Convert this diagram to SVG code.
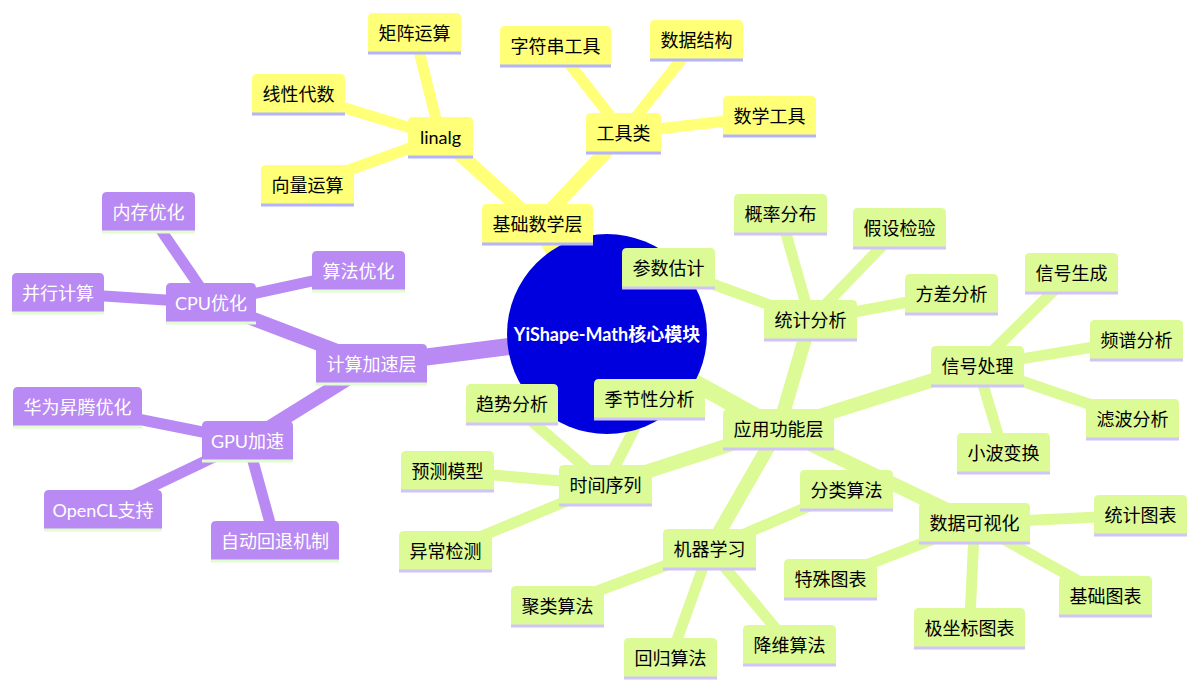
<svg xmlns="http://www.w3.org/2000/svg" width="1194" height="693" viewBox="0 0 1194 693">
<style>
text{font-family:"Trebuchet MS",Lato,"Noto Sans CJK SC",sans-serif;font-size:18px;text-anchor:middle;dominant-baseline:central}
.s0 path{fill:#ffff78}.s0 line{stroke:#b3b3ff;stroke-width:3}.s0 text{fill:#000}
.s1 path{fill:#dcfa96}.s1 line{stroke:#d0c4f8;stroke-width:3}.s1 text{fill:#000}
.s2 path{fill:#b98af3}.s2 line{stroke:#e2fcd2;stroke-width:3}.s2 text{fill:#fff}
#edges line{stroke-linecap:butt}
.e0{stroke:#ffff78}.e1{stroke:#dcfa96}.e2{stroke:#b98af3}
.d0{stroke-width:17}.d1{stroke-width:14}.d2{stroke-width:11}
</style>
<rect width="1194" height="693" fill="#fff"/>
<g id="edges">
<line class="e0 d0" x1="607" y1="334" x2="537.5" y2="224"/>
<line class="e1 d0" x1="607" y1="334" x2="778.5" y2="429"/>
<line class="e2 d0" x1="607" y1="334" x2="371.5" y2="364"/>
<line class="e0 d1" x1="537.5" y1="224" x2="440.5" y2="137"/>
<line class="e0 d1" x1="537.5" y1="224" x2="623.5" y2="133"/>
<line class="e0 d2" x1="440.5" y1="137" x2="414.5" y2="33"/>
<line class="e0 d2" x1="440.5" y1="137" x2="298.5" y2="94"/>
<line class="e0 d2" x1="440.5" y1="137" x2="307.5" y2="185"/>
<line class="e0 d2" x1="623.5" y1="133" x2="555.5" y2="46"/>
<line class="e0 d2" x1="623.5" y1="133" x2="696.5" y2="40"/>
<line class="e0 d2" x1="623.5" y1="133" x2="769.5" y2="116"/>
<line class="e1 d1" x1="778.5" y1="429" x2="810.5" y2="320"/>
<line class="e1 d1" x1="778.5" y1="429" x2="977.5" y2="366"/>
<line class="e1 d1" x1="778.5" y1="429" x2="605.5" y2="485"/>
<line class="e1 d1" x1="778.5" y1="429" x2="709.5" y2="549"/>
<line class="e1 d1" x1="778.5" y1="429" x2="974.5" y2="523"/>
<line class="e1 d2" x1="810.5" y1="320" x2="668.5" y2="268"/>
<line class="e1 d2" x1="810.5" y1="320" x2="780.5" y2="214"/>
<line class="e1 d2" x1="810.5" y1="320" x2="899.5" y2="228"/>
<line class="e1 d2" x1="810.5" y1="320" x2="951.5" y2="294"/>
<line class="e1 d2" x1="977.5" y1="366" x2="1071.5" y2="273"/>
<line class="e1 d2" x1="977.5" y1="366" x2="1136.5" y2="340"/>
<line class="e1 d2" x1="977.5" y1="366" x2="1132.5" y2="419"/>
<line class="e1 d2" x1="977.5" y1="366" x2="1003.5" y2="453"/>
<line class="e1 d2" x1="605.5" y1="485" x2="512" y2="404"/>
<line class="e1 d2" x1="605.5" y1="485" x2="649.5" y2="399"/>
<line class="e1 d2" x1="605.5" y1="485" x2="447.5" y2="471"/>
<line class="e1 d2" x1="605.5" y1="485" x2="445.5" y2="551"/>
<line class="e1 d2" x1="709.5" y1="549" x2="846.5" y2="490"/>
<line class="e1 d2" x1="709.5" y1="549" x2="557.5" y2="606"/>
<line class="e1 d2" x1="709.5" y1="549" x2="670.5" y2="658"/>
<line class="e1 d2" x1="709.5" y1="549" x2="789.5" y2="645"/>
<line class="e1 d2" x1="974.5" y1="523" x2="1140.5" y2="515"/>
<line class="e1 d2" x1="974.5" y1="523" x2="830.5" y2="579"/>
<line class="e1 d2" x1="974.5" y1="523" x2="969.5" y2="628"/>
<line class="e1 d2" x1="974.5" y1="523" x2="1105.5" y2="596"/>
<line class="e2 d1" x1="371.5" y1="364" x2="211" y2="303"/>
<line class="e2 d1" x1="371.5" y1="364" x2="247.5" y2="441"/>
<line class="e2 d2" x1="211" y1="303" x2="148.5" y2="212"/>
<line class="e2 d2" x1="211" y1="303" x2="358.5" y2="271"/>
<line class="e2 d2" x1="211" y1="303" x2="58" y2="293"/>
<line class="e2 d2" x1="247.5" y1="441" x2="77.5" y2="407"/>
<line class="e2 d2" x1="247.5" y1="441" x2="103" y2="510"/>
<line class="e2 d2" x1="247.5" y1="441" x2="275" y2="541"/>
</g>
<g id="root">
<circle cx="607" cy="334" r="100" fill="#0000df"/>
<text x="607" y="334" fill="#fff" font-weight="bold">YiShape-Math核心模块</text>
</g>
<!-- section 0 -->
<g id="n-jichu" class="s0" transform="translate(482,204)"><path d="M0 40V5Q0 0 5 0H106Q111 0 111 5V40Z"/><line x1="0" y1="40" x2="111" y2="40"/><text x="55.5" y="20">基础数学层</text></g>
<g id="n-linalg" class="s0" transform="translate(408,117)"><path d="M0 40V5Q0 0 5 0H60Q65 0 65 5V40Z"/><line x1="0" y1="40" x2="65" y2="40"/><text x="32.5" y="20">linalg</text></g>
<g id="n-juzhen" class="s0" transform="translate(368,13)"><path d="M0 40V5Q0 0 5 0H88Q93 0 93 5V40Z"/><line x1="0" y1="40" x2="93" y2="40"/><text x="46.5" y="20">矩阵运算</text></g>
<g id="n-xianxing" class="s0" transform="translate(252,74)"><path d="M0 40V5Q0 0 5 0H88Q93 0 93 5V40Z"/><line x1="0" y1="40" x2="93" y2="40"/><text x="46.5" y="20">线性代数</text></g>
<g id="n-xiangliang" class="s0" transform="translate(261,165)"><path d="M0 40V5Q0 0 5 0H88Q93 0 93 5V40Z"/><line x1="0" y1="40" x2="93" y2="40"/><text x="46.5" y="20">向量运算</text></g>
<g id="n-gongju" class="s0" transform="translate(586,113)"><path d="M0 40V5Q0 0 5 0H70Q75 0 75 5V40Z"/><line x1="0" y1="40" x2="75" y2="40"/><text x="37.5" y="20">工具类</text></g>
<g id="n-zifuchuan" class="s0" transform="translate(500,26)"><path d="M0 40V5Q0 0 5 0H106Q111 0 111 5V40Z"/><line x1="0" y1="40" x2="111" y2="40"/><text x="55.5" y="20">字符串工具</text></g>
<g id="n-shujujiegou" class="s0" transform="translate(650,20)"><path d="M0 40V5Q0 0 5 0H88Q93 0 93 5V40Z"/><line x1="0" y1="40" x2="93" y2="40"/><text x="46.5" y="20">数据结构</text></g>
<g id="n-shuxue" class="s0" transform="translate(723,96)"><path d="M0 40V5Q0 0 5 0H88Q93 0 93 5V40Z"/><line x1="0" y1="40" x2="93" y2="40"/><text x="46.5" y="20">数学工具</text></g>
<!-- section 1 -->
<g id="n-yingyong" class="s1" transform="translate(723,409)"><path d="M0 40V5Q0 0 5 0H106Q111 0 111 5V40Z"/><line x1="0" y1="40" x2="111" y2="40"/><text x="55.5" y="20">应用功能层</text></g>
<g id="n-tongji" class="s1" transform="translate(764,300)"><path d="M0 40V5Q0 0 5 0H88Q93 0 93 5V40Z"/><line x1="0" y1="40" x2="93" y2="40"/><text x="46.5" y="20">统计分析</text></g>
<g id="n-canshu" class="s1" transform="translate(622,248)"><path d="M0 40V5Q0 0 5 0H88Q93 0 93 5V40Z"/><line x1="0" y1="40" x2="93" y2="40"/><text x="46.5" y="20">参数估计</text></g>
<g id="n-gailv" class="s1" transform="translate(734,194)"><path d="M0 40V5Q0 0 5 0H88Q93 0 93 5V40Z"/><line x1="0" y1="40" x2="93" y2="40"/><text x="46.5" y="20">概率分布</text></g>
<g id="n-jiashe" class="s1" transform="translate(853,208)"><path d="M0 40V5Q0 0 5 0H88Q93 0 93 5V40Z"/><line x1="0" y1="40" x2="93" y2="40"/><text x="46.5" y="20">假设检验</text></g>
<g id="n-fangcha" class="s1" transform="translate(905,274)"><path d="M0 40V5Q0 0 5 0H88Q93 0 93 5V40Z"/><line x1="0" y1="40" x2="93" y2="40"/><text x="46.5" y="20">方差分析</text></g>
<g id="n-xinhao" class="s1" transform="translate(931,346)"><path d="M0 40V5Q0 0 5 0H88Q93 0 93 5V40Z"/><line x1="0" y1="40" x2="93" y2="40"/><text x="46.5" y="20">信号处理</text></g>
<g id="n-xinhaoshengcheng" class="s1" transform="translate(1025,253)"><path d="M0 40V5Q0 0 5 0H88Q93 0 93 5V40Z"/><line x1="0" y1="40" x2="93" y2="40"/><text x="46.5" y="20">信号生成</text></g>
<g id="n-pinpu" class="s1" transform="translate(1090,320)"><path d="M0 40V5Q0 0 5 0H88Q93 0 93 5V40Z"/><line x1="0" y1="40" x2="93" y2="40"/><text x="46.5" y="20">频谱分析</text></g>
<g id="n-lvbo" class="s1" transform="translate(1086,399)"><path d="M0 40V5Q0 0 5 0H88Q93 0 93 5V40Z"/><line x1="0" y1="40" x2="93" y2="40"/><text x="46.5" y="20">滤波分析</text></g>
<g id="n-xiaobo" class="s1" transform="translate(957,433)"><path d="M0 40V5Q0 0 5 0H88Q93 0 93 5V40Z"/><line x1="0" y1="40" x2="93" y2="40"/><text x="46.5" y="20">小波变换</text></g>
<g id="n-shijian" class="s1" transform="translate(559,465)"><path d="M0 40V5Q0 0 5 0H88Q93 0 93 5V40Z"/><line x1="0" y1="40" x2="93" y2="40"/><text x="46.5" y="20">时间序列</text></g>
<g id="n-qushi" class="s1" transform="translate(466,384)"><path d="M0 40V5Q0 0 5 0H87Q92 0 92 5V40Z"/><line x1="0" y1="40" x2="92" y2="40"/><text x="46" y="20">趋势分析</text></g>
<g id="n-jijie" class="s1" transform="translate(594,379)"><path d="M0 40V5Q0 0 5 0H106Q111 0 111 5V40Z"/><line x1="0" y1="40" x2="111" y2="40"/><text x="55.5" y="20">季节性分析</text></g>
<g id="n-yuce" class="s1" transform="translate(401,451)"><path d="M0 40V5Q0 0 5 0H88Q93 0 93 5V40Z"/><line x1="0" y1="40" x2="93" y2="40"/><text x="46.5" y="20">预测模型</text></g>
<g id="n-yichang" class="s1" transform="translate(399,531)"><path d="M0 40V5Q0 0 5 0H88Q93 0 93 5V40Z"/><line x1="0" y1="40" x2="93" y2="40"/><text x="46.5" y="20">异常检测</text></g>
<g id="n-jiqi" class="s1" transform="translate(663,529)"><path d="M0 40V5Q0 0 5 0H88Q93 0 93 5V40Z"/><line x1="0" y1="40" x2="93" y2="40"/><text x="46.5" y="20">机器学习</text></g>
<g id="n-fenlei" class="s1" transform="translate(800,470)"><path d="M0 40V5Q0 0 5 0H88Q93 0 93 5V40Z"/><line x1="0" y1="40" x2="93" y2="40"/><text x="46.5" y="20">分类算法</text></g>
<g id="n-julei" class="s1" transform="translate(511,586)"><path d="M0 40V5Q0 0 5 0H88Q93 0 93 5V40Z"/><line x1="0" y1="40" x2="93" y2="40"/><text x="46.5" y="20">聚类算法</text></g>
<g id="n-huigui" class="s1" transform="translate(624,638)"><path d="M0 40V5Q0 0 5 0H88Q93 0 93 5V40Z"/><line x1="0" y1="40" x2="93" y2="40"/><text x="46.5" y="20">回归算法</text></g>
<g id="n-jiangwei" class="s1" transform="translate(743,625)"><path d="M0 40V5Q0 0 5 0H88Q93 0 93 5V40Z"/><line x1="0" y1="40" x2="93" y2="40"/><text x="46.5" y="20">降维算法</text></g>
<g id="n-keshihua" class="s1" transform="translate(919,503)"><path d="M0 40V5Q0 0 5 0H106Q111 0 111 5V40Z"/><line x1="0" y1="40" x2="111" y2="40"/><text x="55.5" y="20">数据可视化</text></g>
<g id="n-tongjitubiao" class="s1" transform="translate(1094,495)"><path d="M0 40V5Q0 0 5 0H88Q93 0 93 5V40Z"/><line x1="0" y1="40" x2="93" y2="40"/><text x="46.5" y="20">统计图表</text></g>
<g id="n-teshu" class="s1" transform="translate(784,559)"><path d="M0 40V5Q0 0 5 0H88Q93 0 93 5V40Z"/><line x1="0" y1="40" x2="93" y2="40"/><text x="46.5" y="20">特殊图表</text></g>
<g id="n-jizuobiao" class="s1" transform="translate(914,608)"><path d="M0 40V5Q0 0 5 0H106Q111 0 111 5V40Z"/><line x1="0" y1="40" x2="111" y2="40"/><text x="55.5" y="20">极坐标图表</text></g>
<g id="n-jichutubiao" class="s1" transform="translate(1059,576)"><path d="M0 40V5Q0 0 5 0H88Q93 0 93 5V40Z"/><line x1="0" y1="40" x2="93" y2="40"/><text x="46.5" y="20">基础图表</text></g>
<!-- section 2 -->
<g id="n-jiasu" class="s2" transform="translate(316,344)"><path d="M0 40V5Q0 0 5 0H106Q111 0 111 5V40Z"/><line x1="0" y1="40" x2="111" y2="40"/><text x="55.5" y="20">计算加速层</text></g>
<g id="n-cpu" class="s2" transform="translate(166,283)"><path d="M0 40V5Q0 0 5 0H85Q90 0 90 5V40Z"/><line x1="0" y1="40" x2="90" y2="40"/><text x="45" y="20">CPU优化</text></g>
<g id="n-neicun" class="s2" transform="translate(102,192)"><path d="M0 40V5Q0 0 5 0H88Q93 0 93 5V40Z"/><line x1="0" y1="40" x2="93" y2="40"/><text x="46.5" y="20">内存优化</text></g>
<g id="n-suanfa" class="s2" transform="translate(312,251)"><path d="M0 40V5Q0 0 5 0H88Q93 0 93 5V40Z"/><line x1="0" y1="40" x2="93" y2="40"/><text x="46.5" y="20">算法优化</text></g>
<g id="n-bingxing" class="s2" transform="translate(12,273)"><path d="M0 40V5Q0 0 5 0H87Q92 0 92 5V40Z"/><line x1="0" y1="40" x2="92" y2="40"/><text x="46" y="20">并行计算</text></g>
<g id="n-gpu" class="s2" transform="translate(202,421)"><path d="M0 40V5Q0 0 5 0H86Q91 0 91 5V40Z"/><line x1="0" y1="40" x2="91" y2="40"/><text x="45.5" y="20">GPU加速</text></g>
<g id="n-huawei" class="s2" transform="translate(13,387)"><path d="M0 40V5Q0 0 5 0H124Q129 0 129 5V40Z"/><line x1="0" y1="40" x2="129" y2="40"/><text x="64.5" y="20">华为昇腾优化</text></g>
<g id="n-opencl" class="s2" transform="translate(44,490)"><path d="M0 40V5Q0 0 5 0H113Q118 0 118 5V40Z"/><line x1="0" y1="40" x2="118" y2="40"/><text x="59" y="20">OpenCL支持</text></g>
<g id="n-huitui" class="s2" transform="translate(211,521)"><path d="M0 40V5Q0 0 5 0H123Q128 0 128 5V40Z"/><line x1="0" y1="40" x2="128" y2="40"/><text x="64" y="20">自动回退机制</text></g>
</svg>
